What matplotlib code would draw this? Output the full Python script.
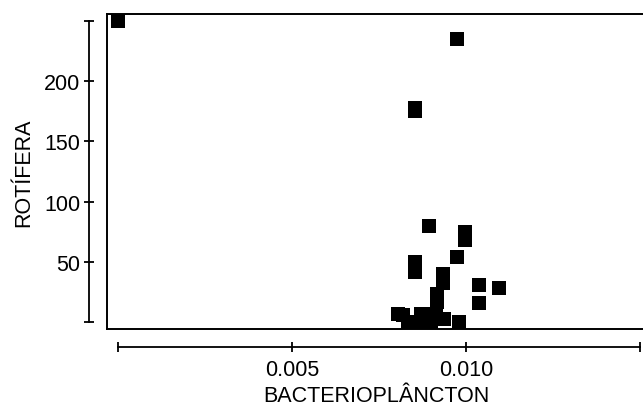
import matplotlib
matplotlib.use('Agg')
import matplotlib.pyplot as plt

plt.rcParams['font.family'] = ['Liberation Sans', 'DejaVu Sans']

# dados
bacterio = [0.0000, 0.00975, 0.00855, 0.00855, 0.00894, 0.00996, 0.00996,
            0.00975, 0.00855, 0.00855, 0.00935, 0.00935, 0.00916, 0.00916,
            0.01036, 0.01095, 0.01036,
            0.00805, 0.00819, 0.00872, 0.00879, 0.00834, 0.00865, 0.00901,
            0.00914, 0.00937, 0.00979]
rotifera = [250, 235, 178, 175, 80, 75, 68,
            54.5, 50, 42, 40, 33, 23.5, 16.5,
            31, 28.5, 16,
            6.6, 6.0, 6.6, 6.6, 0, 0, 0,
            6, 3, 0]

xticks = [0.0, 0.005, 0.010, 0.015]
xticklabels = ['', '0.005', '0.010', '']
yticks = [0, 50, 100, 150, 200, 250]
yticklabels = ['', '50', '100', '150', '200', '']

xlim = (-0.000307, 0.01514)
ylim = (-5.5, 255.5)

fig = plt.figure(figsize=(6.43, 4.06), dpi=100)
rect = [107/643, 76/406, 538/643, 315/406]

## caixa com os pontos
ax = fig.add_axes(rect)
ax.scatter(bacterio, rotifera, marker='s', s=92, c='black', linewidths=0, zorder=3)
ax.set_xlim(xlim)
ax.set_ylim(ylim)
ax.set_xticks([])
ax.set_yticks([])
for sp in ax.spines.values():
    sp.set_linewidth(1.4)

## eixos destacados (estilo SYSTAT)
ax2 = fig.add_axes(rect)
ax2.patch.set_visible(False)
ax2.spines['top'].set_visible(False)
ax2.spines['right'].set_visible(False)
ax2.spines['left'].set_position(('outward', 12.7))
ax2.spines['bottom'].set_position(('outward', 13))
ax2.spines['left'].set_bounds(0, 250)
ax2.spines['bottom'].set_bounds(0, 0.015)
ax2.spines['left'].set_linewidth(1.3)
ax2.spines['bottom'].set_linewidth(1.3)
ax2.set_xlim(xlim)
ax2.set_ylim(ylim)
ax2.set_xticks(xticks, labels=xticklabels)
ax2.set_yticks(yticks, labels=yticklabels)
ax2.tick_params(direction='inout', length=7, width=1.3, labelsize=15.5, colors='black')
ax2.tick_params(axis='x', pad=5)
ax2.tick_params(axis='y', pad=3)
ax2.set_xlabel('BACTERIOPLÂNCTON', fontsize=15.5, labelpad=4)
ax2.set_ylabel('ROTÍFERA', fontsize=15.5, labelpad=7)

fig.savefig('out.png', dpi=100)
